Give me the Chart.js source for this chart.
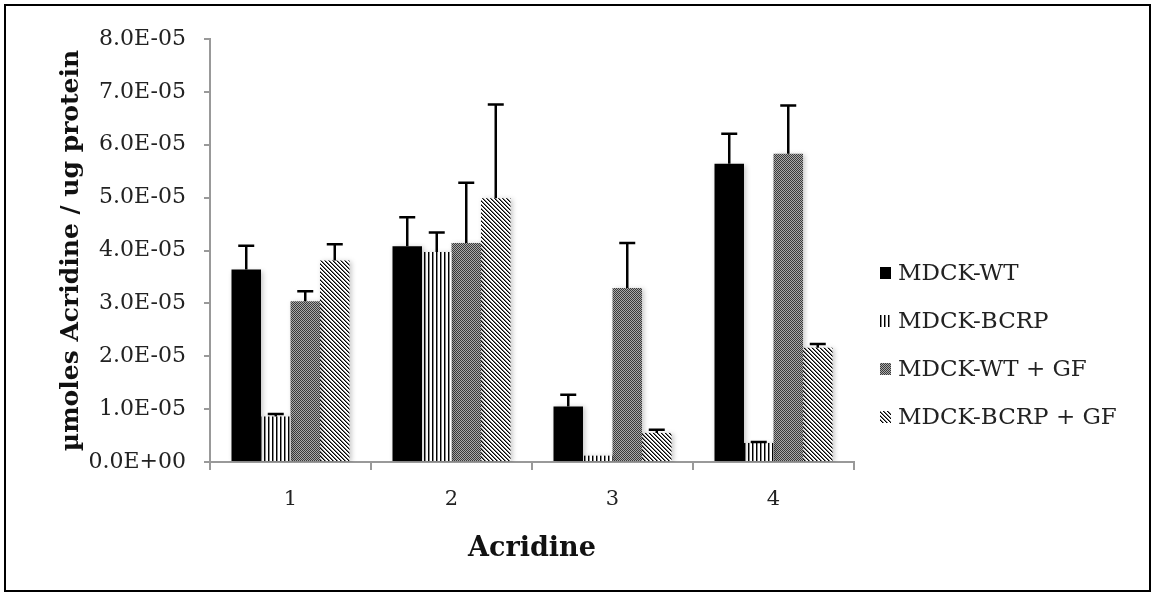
<!DOCTYPE html>
<html>
<head>
<meta charset="utf-8">
<script src="https://cdn.jsdelivr.net/npm/chart.js@4/dist/chart.umd.min.js"></script>
<style>
  html, body { margin: 0; padding: 0; background: #fff; }
  #wrap { width: 1155px; height: 596px; }
</style>
</head>
<body>
<div id="wrap"><canvas id="chart"></canvas></div>
<script>
// data
const categories = ['1', '2', '3', '4'];
const seriesNames = ['MDCK-WT', 'MDCK-BCRP', 'MDCK-WT + GF', 'MDCK-BCRP + GF'];
const wtValues = [3.64e-5, 4.08e-5, 1.05e-5, 5.64e-5];
const wtErrors = [0.45e-5, 0.55e-5, 0.22e-5, 0.57e-5];
const bcrpValues = [0.86e-5, 3.97e-5, 0.12e-5, 0.36e-5];
const bcrpErrors = [0.05e-5, 0.37e-5, 0, 0.02e-5];
const wtGfValues = [3.04e-5, 4.14e-5, 3.29e-5, 5.83e-5];
const wtGfErrors = [0.19e-5, 1.14e-5, 0.85e-5, 0.91e-5];
const bcrpGfValues = [3.81e-5, 4.99e-5, 0.55e-5, 2.16e-5];
const bcrpGfErrors = [0.31e-5, 1.77e-5, 0.06e-5, 0.07e-5];
const yMin = 0;
const yMax = 8e-5;
const yStep = 1e-5;

// Excel style fill patterns
function makePattern(size, paint) {
    const c = document.createElement('canvas');
    c.width = size;
    c.height = size;
    const g = c.getContext('2d');
    g.fillStyle = '#fff';
    g.fillRect(0, 0, size, size);
    paint(g);
    return g.createPattern(c, 'repeat');
}

const vertLines = makePattern(4, g => {
    g.fillStyle = '#000';
    g.fillRect(0, 0, 1, 4);
    g.fillStyle = '#888';
    g.fillRect(1, 0, 1, 4);
});
const checker = makePattern(2, g => {
    g.fillStyle = '#aaa';
    g.fillRect(0, 0, 2, 2);
    g.fillStyle = '#3a3a3a';
    g.fillRect(0, 0, 1, 1);
    g.fillRect(1, 1, 1, 1);
});
const diagLines = makePattern(4, g => {
    for (let x = 0; x < 4; x++) {
        g.fillStyle = '#000';
        g.fillRect(x, x, 1, 1);
        g.fillStyle = '#777';
        g.fillRect((x + 1) % 4, x, 1, 1);
    }
});

// 8.0E-05 style labels
function sciLabel(v) {
    const parts = Number(v).toExponential(1).split('e');
    const exp = parseInt(parts[1], 10);
    return parts[0] + 'E' + (exp < 0 ? '-' : '+') + String(Math.abs(exp)).padStart(2, '0');
}

const shadowPlugin = {
    id: 'barShadow',
    beforeDatasetsDraw(chart) {
        const ctx = chart.ctx;
        ctx.save();
        ctx.shadowColor = 'rgba(0,0,0,0.22)';
        ctx.shadowBlur = 5;
        ctx.shadowOffsetX = 2;
        ctx.shadowOffsetY = 1;
    },
    afterDatasetsDraw(chart) {
        chart.ctx.restore();
    }
};

const errorBarPlugin = {
    id: 'errorBars',
    afterDatasetsDraw(chart) {
        const ctx = chart.ctx;
        const yScale = chart.scales.y;
        ctx.save();
        ctx.strokeStyle = '#000';
        ctx.lineWidth = 2.5;
        chart.data.datasets.forEach((ds, i) => {
            const meta = chart.getDatasetMeta(i);
            meta.data.forEach((bar, j) => {
                const err = ds.errors[j];
                if (!err) return;
                const top = yScale.getPixelForValue(ds.data[j] + err);
                ctx.beginPath();
                ctx.moveTo(bar.x, bar.y);
                ctx.lineTo(bar.x, top);
                ctx.moveTo(bar.x - 8, top);
                ctx.lineTo(bar.x + 8, top);
                ctx.stroke();
            });
        });
        ctx.restore();
    }
};

const legendPlugin = {
    id: 'sideLegend',
    afterDraw(chart) {
        const ctx = chart.ctx;
        ctx.save();
        ctx.font = '23px "DejaVu Serif"';
        ctx.textBaseline = 'middle';
        chart.data.datasets.forEach((ds, i) => {
            const y = 273 + i * 48;
            ctx.fillStyle = ds.backgroundColor;
            ctx.fillRect(880, y - 6, 11, 12);
            ctx.fillStyle = '#222';
            ctx.fillText(ds.label, 898, y + 1);
        });
        ctx.restore();
    }
};

const framePlugin = {
    id: 'frame',
    afterDraw(chart) {
        const ctx = chart.ctx;
        ctx.save();
        ctx.strokeStyle = '#000';
        ctx.lineWidth = 2;
        ctx.strokeRect(5, 5, 1145, 586);
        ctx.restore();
    }
};

const fills = ['#000', vertLines, checker, diagLines];
const values = [wtValues, bcrpValues, wtGfValues, bcrpGfValues];
const errors = [wtErrors, bcrpErrors, wtGfErrors, bcrpGfErrors];

new Chart(document.getElementById('chart'), {
    type: 'bar',
    data: {
        labels: categories,
        datasets: seriesNames.map((name, i) => ({
            label: name,
            data: values[i],
            errors: errors[i],
            backgroundColor: fills[i],
            borderWidth: 0,
            barPercentage: 1.0,
            categoryPercentage: 0.733
        }))
    },
    options: {
        responsive: true,
        maintainAspectRatio: false,
        animation: false,
        layout: {
            padding: { left: 48, top: 39, right: 301, bottom: 10 }
        },
        plugins: {
            legend: { display: false },
            tooltip: { enabled: false }
        },
        scales: {
            x: {
                grid: {
                    display: true,
                    drawOnChartArea: false,
                    drawTicks: true,
                    tickLength: 8,
                    color: '#999',
                    lineWidth: 2
                },
                border: { color: '#999', width: 2 },
                ticks: {
                    color: '#222',
                    padding: 17,
                    font: { family: 'DejaVu Serif', size: 21 }
                },
                title: {
                    display: true,
                    text: 'Acridine',
                    color: '#111',
                    padding: { top: 0, bottom: 21 },
                    font: { family: 'DejaVu Serif', size: 27, weight: 'bold' }
                },
                afterFit(scale) {
                    scale.height = 124;
                }
            },
            y: {
                min: yMin,
                max: yMax,
                ticks: {
                    stepSize: yStep,
                    color: '#222',
                    padding: 18,
                    font: { family: 'DejaVu Serif', size: 22 },
                    callback: v => sciLabel(v)
                },
                grid: {
                    display: true,
                    drawOnChartArea: false,
                    drawTicks: true,
                    tickLength: 6,
                    color: '#999',
                    lineWidth: 2
                },
                border: { color: '#999', width: 2 },
                title: {
                    display: true,
                    text: 'µmoles Acridine / ug protein',
                    color: '#111',
                    padding: { top: 8, bottom: 0 },
                    font: { family: 'DejaVu Serif', size: 25, weight: 'bold' }
                },
                afterFit(scale) {
                    scale.width = 162;
                }
            }
        }
    },
    plugins: [shadowPlugin, errorBarPlugin, legendPlugin, framePlugin]
});
</script>
</body>
</html>
